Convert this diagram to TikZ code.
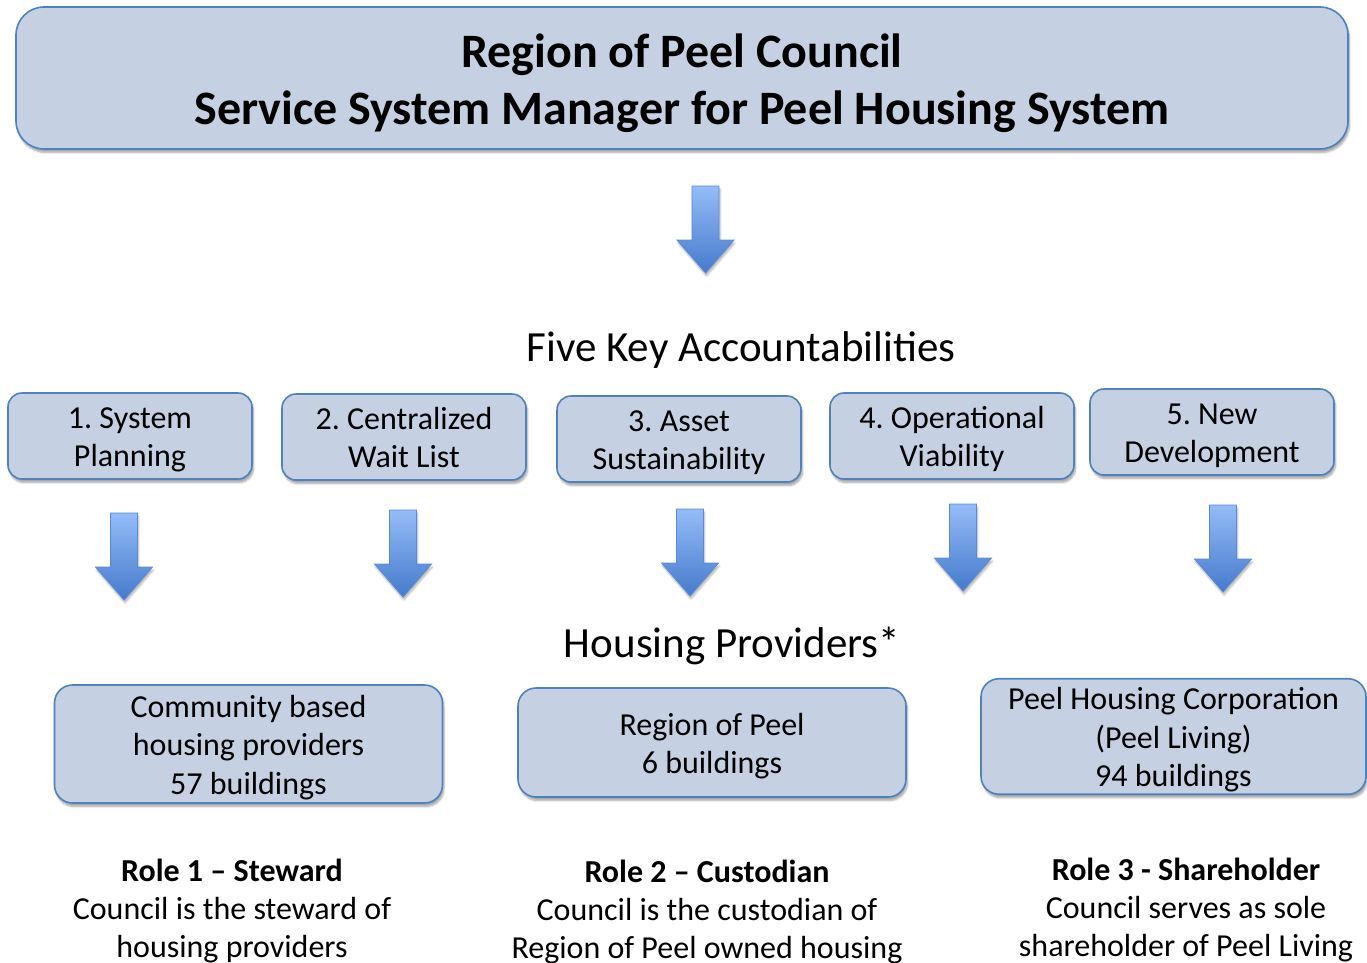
\documentclass[tikz,border=0pt]{standalone}
\usepackage{fontspec}
\setmainfont{Carlito}
\usetikzlibrary{shadows.blur}

\definecolor{boxfill}{RGB}{197,208,227}
\definecolor{boxline}{RGB}{79,129,189}
\definecolor{arrtop}{RGB}{148,188,247}
\definecolor{arrbot}{RGB}{70,122,204}
\definecolor{arrline}{RGB}{88,138,214}

% one line of panel text on an even line grid
\newcommand\shl[1]{\rule[-0.19\baselineskip]{0pt}{\baselineskip}#1}

\begin{document}
\frenchspacing
\begin{tikzpicture}[x=1pt,y=-1pt,
  panel/.style={draw=boxline, line width=1.6pt, fill=boxfill,
    blur shadow={shadow xshift=1.5pt, shadow yshift=-3.5pt, shadow opacity=35, shadow blur steps=6},
    align=center, inner sep=0pt},
  headbox/.style={panel, rounded corners=28pt, minimum width=1332pt, minimum height=142pt,
    font=\fontsize{48}{57}\bfseries\selectfont},
  keybox/.style={panel, rounded corners=14pt, minimum width=244pt, minimum height=86pt,
    font=\fontsize{32}{38}\selectfont},
  provbox/.style={panel, rounded corners=18pt, minimum width=388pt,
    font=\fontsize{32}{38.5}\selectfont},
  heading/.style={font=\fontsize{43}{46}\selectfont, inner sep=0pt},
  roletext/.style={align=center, inner sep=0pt, font=\fontsize{32}{38}\selectfont},
  downarrow/.pic={
    \shade[top color=arrtop, bottom color=arrbot, draw=arrline, line width=0.8pt,
      blur shadow={shadow xshift=1pt, shadow yshift=-3pt, shadow opacity=30, shadow blur steps=5}]
      (-13.5,0) -- (13.5,0) -- (13.5,54) -- (28.5,54) -- (0,87) -- (-28.5,54)
      -- (-13.5,54) -- cycle;
  }]
\useasboundingbox (0,0) rectangle (1367,962);

% council box
\node[headbox] (council) at (682,78)
  {\shl{Region of Peel Council}\\\shl{Service System Manager for Peel Housing System}};

\pic (arrcouncil) at (705.5,186) {downarrow};

\node[heading] (fka) at (741,350) {Five Key Accountabilities};

% five accountabilities
\node[keybox] (k1) at (130,436) {\shl{1. System}\\\shl{Planning}};
\node[keybox] (k2) at (404,437) {\shl{2. Centralized}\\\shl{Wait List}};
\node[keybox] (k3) at (679,439) {\shl{3. Asset}\\\shl{Sustainability}};
\node[keybox] (k4) at (952,436) {\shl{4. Operational}\\\shl{Viability}};
\node[keybox] (k5) at (1212,432) {\shl{5. New}\\\shl{Development}};

\pic (arr1) at (124,513) {downarrow};
\pic (arr2) at (403,510) {downarrow};
\pic (arr3) at (690,509) {downarrow};
\pic (arr4) at (963,504) {downarrow};
\pic (arr5) at (1223,505) {downarrow};

\node[heading] (hp) at (732,646) {Housing Providers*};

% housing providers
\node[provbox, minimum height=118pt] (p1) at (248.5,744)
  {\shl{Community based}\\\shl{housing providers}\\\shl{57 buildings}};
\node[provbox, minimum height=109pt] (p2) at (712,742.5)
  {\shl{Region of Peel}\\\shl{6 buildings}};
\node[provbox, minimum height=107pt, minimum width=385pt] (p3) at (1173.5,736.5)
  {\shl{Peel Housing Corporation}\\\shl{(Peel Living)}\\\shl{94 buildings}};

% roles
\node[roletext] (r1) at (232,911)
  {\textbf{Role 1 – Steward}\\Council is the steward of\\housing providers};
\node[roletext] (r2) at (707,912.5)
  {\textbf{Role 2 – Custodian}\\Council is the custodian of\\Region of Peel owned housing};
\node[roletext] (r3) at (1186,910.5)
  {\textbf{Role 3 - Shareholder}\\Council serves as sole\\shareholder of Peel Living};
\end{tikzpicture}
\end{document}
